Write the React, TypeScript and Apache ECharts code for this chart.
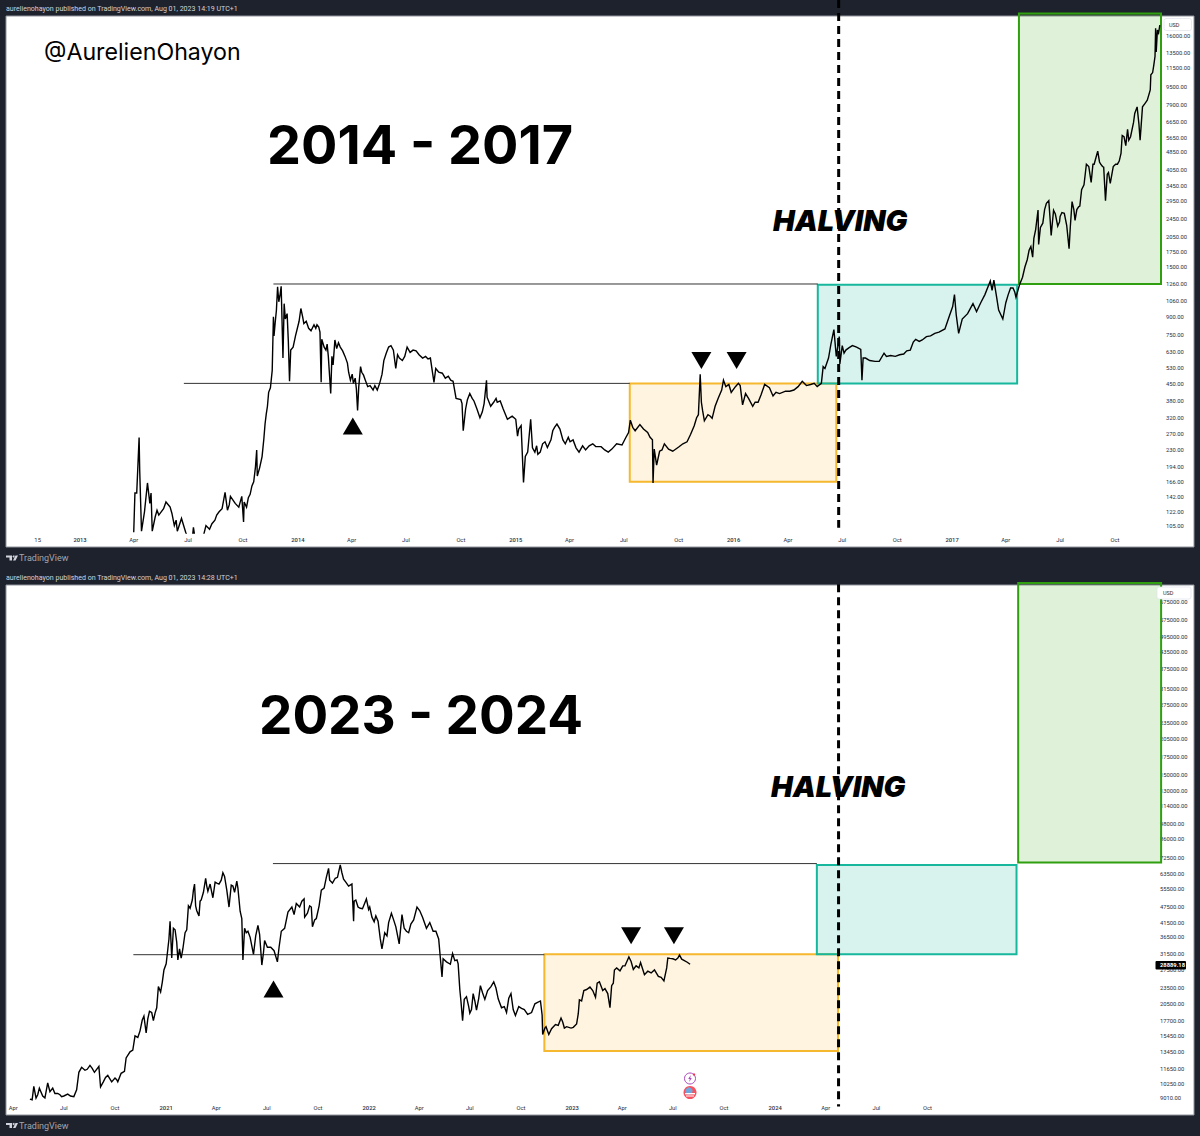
import React, { useEffect, useRef } from "react";
import * as echarts from "echarts";

type Pt = [string, number];

// ---- 2013-2017 prices (date, USD) ----
const btc2013: Pt[] = [
  ["2013-04-01",99],["2013-04-03",148],["2013-04-06",148],["2013-04-10",261],["2013-04-11",187],["2013-04-14",100],["2013-04-19",122],["2013-04-24",164],["2013-04-28",133],["2013-04-30",148],
  ["2013-05-02",100],["2013-05-07",116],["2013-05-13",118],["2013-05-17",122],["2013-05-25",135],["2013-06-01",128],["2013-06-08",106],["2013-06-11",112],["2013-06-13",100],["2013-06-20",114],["2013-06-27",99],
  ["2013-07-03",90],["2013-07-08",92],["2013-07-10",104],["2013-07-13",92],["2013-07-27",96],["2013-07-31",106],["2013-08-06",102],["2013-08-15",112],["2013-08-22",122],["2013-09-01",149],["2013-09-05",124],["2013-09-10",143],["2013-09-18",133],["2013-09-29",143],
  ["2013-10-02",110],["2013-10-03",135],["2013-10-10",141],["2013-10-16",159],["2013-10-22",194],["2013-10-24",230],["2013-10-25",176],["2013-11-02",215],["2013-11-05",258],["2013-11-09",332],["2013-11-13",415],["2013-11-19",520],["2013-11-21",900],["2013-11-22",740],["2013-11-24",850],["2013-11-28",1225],["2013-11-30",1050],
  ["2013-12-04",1230],["2013-12-07",590],["2013-12-09",1030],["2013-12-14",930],["2013-12-18",465],["2013-12-20",640],["2013-12-28",740],
  ["2013-05-10",124],["2013-05-21",126],["2013-06-04",120],["2013-08-10",108],["2013-08-18",118],["2013-08-27",126],["2013-09-08",131],["2013-09-14",138],["2013-09-24",128],["2013-10-07",128],["2013-10-13",146],["2013-10-19",166],["2013-10-29",192],["2013-11-07",300],["2013-11-11",360],["2013-11-16",435],["2013-11-26",960],["2013-12-02",1120],["2013-12-11",880],["2013-12-16",700],["2013-12-24",660],
];
const btc2014: Pt[] = [
  ["2014-01-06",980],["2014-01-11",840],["2014-01-19",800],["2014-01-28",830],["2014-02-05",810],["2014-02-09",460],["2014-02-10",715],["2014-02-14",660],["2014-02-21",600],["2014-02-25",410],["2014-02-27",600],
  ["2014-03-01",550],["2014-03-04",710],["2014-03-07",650],["2014-03-17",635],["2014-03-25",560],["2014-03-30",470],["2014-04-04",455],["2014-04-07",480],["2014-04-11",345],["2014-04-13",440],["2014-04-16",540],["2014-04-21",495],["2014-04-28",440],
  ["2014-05-07",425],["2014-05-18",455],["2014-05-25",575],["2014-06-02",660],["2014-06-10",640],["2014-06-14",530],["2014-06-17",610],["2014-06-25",575],["2014-07-03",660],["2014-07-18",635],["2014-07-29",590],
  ["2014-08-11",590],["2014-08-17",460],["2014-08-20",530],["2014-08-31",505],["2014-09-18",465],["2014-09-23",390],["2014-10-03",370],["2014-10-05",280],["2014-10-09",350],["2014-10-16",410],["2014-10-23",380],
  ["2014-11-02",320],["2014-11-13",470],["2014-11-14",395],["2014-11-20",360],["2014-11-29",390],["2014-12-06",380],["2014-12-18",315],
  ["2014-01-03",860],["2014-01-09",900],["2014-01-15",860],["2014-01-23",780],["2014-01-31",800],["2014-02-02",830],["2014-02-07",770],["2014-02-17",640],["2014-02-19",680],["2014-03-10",690],["2014-03-13",660],["2014-03-21",600],["2014-03-27",510],["2014-04-02",500],["2014-04-09",430],["2014-04-18",510],["2014-04-24",470],["2014-05-02",445],["2014-05-10",445],["2014-05-14",425],["2014-05-22",500],["2014-05-29",620],["2014-06-06",670],["2014-06-20",590],["2014-06-29",600],["2014-07-08",625],["2014-07-13",640],["2014-07-23",610],["2014-08-03",600],["2014-08-07",585],["2014-08-14",520],["2014-08-25",510],["2014-09-05",480],["2014-09-10",490],["2014-09-14",470],["2014-10-01",385],["2014-10-12",385],["2014-10-20",390],["2014-10-28",350],["2014-11-06",340],["2014-11-09",370],["2014-11-25",375],["2014-12-01",375],["2014-12-11",350],["2014-12-26",325],
];
const btc2015: Pt[] = [
  ["2015-01-01",315],["2015-01-04",265],["2015-01-10",295],["2015-01-14",165],["2015-01-17",215],["2015-01-26",315],["2015-02-02",225],["2015-02-07",220],["2015-02-15",245],["2015-02-23",236],
  ["2015-03-04",280],["2015-03-11",300],["2015-03-21",255],["2015-03-30",262],["2015-04-07",255],["2015-04-17",225],["2015-04-28",230],["2015-05-10",245],["2015-05-24",238],["2015-06-05",225],["2015-06-19",245],["2015-06-28",242],
  ["2015-07-09",275],["2015-07-12",312],["2015-07-20",280],["2015-07-28",298],["2015-08-10",275],["2015-08-18",255],["2015-08-19",164],["2015-08-21",232],["2015-08-25",197],["2015-08-30",227],["2015-09-07",245],["2015-09-21",227],
  ["2015-10-15",250],["2015-10-27",295],["2015-11-03",330],["2015-11-06",500],["2015-11-08",375],["2015-11-13",310],["2015-11-19",330],["2015-11-26",318],["2015-12-01",360],["2015-12-12",425],["2015-12-15",470],["2015-12-24",450],["2015-12-28",415],
  ["2015-01-06",285],["2015-01-21",225],["2015-01-29",235],["2015-02-05",240],["2015-02-11",225],["2015-02-19",250],["2015-03-01",255],["2015-03-07",290],["2015-03-16",285],["2015-03-25",245],["2015-04-02",250],["2015-04-12",235],["2015-04-23",240],["2015-05-04",240],["2015-05-15",238],["2015-05-30",230],["2015-06-11",232],["2015-07-04",260],["2015-07-16",290],["2015-08-03",285],["2015-08-14",262],["2015-09-03",230],["2015-09-14",232],["2015-10-01",237],["2015-10-08",245],["2015-10-21",270],["2015-10-31",320],["2015-11-10",345],["2015-11-23",325],["2015-12-06",390],["2015-12-19",440],
];
const btc2016: Pt[] = [
  ["2016-01-09",455],["2016-01-16",365],["2016-01-21",410],["2016-02-02",360],["2016-02-11",375],["2016-02-22",450],["2016-03-01",435],["2016-03-07",400],["2016-03-18",410],["2016-04-11",425],["2016-04-25",465],
  ["2016-05-09",450],["2016-05-20",440],["2016-05-27",455],["2016-05-30",540],["2016-06-08",590],["2016-06-17",790],["2016-06-21",600],["2016-06-26",735],["2016-06-27",555],["2016-07-01",670],["2016-07-07",640],["2016-07-18",670],
  ["2016-08-01",645],["2016-08-03",470],["2016-08-05",590],["2016-08-16",575],["2016-09-01",570],["2016-09-09",620],["2016-09-13",600],["2016-09-28",600],["2016-10-12",615],["2016-10-23",640],
  ["2016-11-01",715],["2016-11-07",700],["2016-11-19",735],["2016-12-03",760],["2016-12-20",795],["2016-12-27",900],
  ["2016-01-04",440],["2016-01-12",445],["2016-01-26",390],["2016-02-06",375],["2016-02-16",405],["2016-03-12",415],["2016-03-28",420],["2016-04-04",420],["2016-04-18",440],["2016-05-02",445],["2016-05-15",455],["2016-06-02",530],["2016-06-12",680],["2016-07-04",620],["2016-07-12",655],["2016-07-25",660],["2016-08-09",590],["2016-08-25",570],["2016-09-20",605],["2016-10-05",610],["2016-10-17",635],["2016-10-28",695],["2016-11-12",710],["2016-11-26",740],["2016-12-10",770],
];
const btc2017: Pt[] = [
  ["2017-01-05",1130],["2017-01-08",915],["2017-01-12",760],["2017-01-18",880],["2017-01-27",930],["2017-02-05",1030],["2017-02-11",950],["2017-02-25",1130],["2017-03-06",1300],["2017-03-09",1180],["2017-03-12",1310],["2017-03-17",1085],["2017-03-20",965],["2017-03-27",880],
  ["2017-04-01",1040],["2017-04-09",1210],["2017-04-16",1160],["2017-04-18",1100],["2017-04-24",1250],["2017-04-29",1350],["2017-05-07",1620],["2017-05-13",1850],["2017-05-16",1660],["2017-05-18",2010],["2017-05-25",2690],["2017-05-26",1890],
  ["2017-06-02",2350],["2017-06-08",2880],["2017-06-12",2960],["2017-06-16",2070],["2017-06-20",2680],["2017-06-27",2280],["2017-07-01",2520],["2017-07-08",2600],["2017-07-16",1810],["2017-07-21",2930],["2017-07-26",2420],
  ["2017-08-01",2780],["2017-08-06",3310],["2017-08-10",3480],["2017-08-14",4300],["2017-08-22",3570],["2017-08-27",4300],["2017-09-02",4920],["2017-09-07",4300],["2017-09-12",4170],["2017-09-15",2960],["2017-09-18",3880],["2017-09-23",3530],
  ["2017-10-02",4300],["2017-10-08",4440],["2017-10-13",5770],["2017-10-19",5200],["2017-10-22",6150],["2017-10-27",5700],["2017-11-03",7230],["2017-11-07",7740],["2017-11-12",5500],["2017-11-16",7740],["2017-11-24",8280],["2017-11-29",9200],["2017-11-30",10750],
  ["2017-12-05",11900],["2017-12-07",13000],["2017-12-08",17300],["2017-12-09",13600],["2017-12-11",17000],["2017-12-15",17900],
  ["2017-01-02",1000],["2017-02-18",1040],["2017-04-05",1130],["2017-04-13",1210],["2017-05-03",1500],["2017-05-10",1780],["2017-05-21",2200],["2017-05-29",2250],["2017-06-05",2700],["2017-06-14",2500],["2017-06-23",2580],["2017-06-30",2380],["2017-07-04",2620],["2017-07-12",2300],["2017-07-18",2250],["2017-07-24",2700],["2017-07-29",2700],["2017-08-03",2800],["2017-08-18",4200],["2017-08-25",4300],["2017-08-31",4700],["2017-09-05",4400],["2017-09-10",4200],["2017-09-20",3950],["2017-09-28",4200],["2017-10-05",4300],["2017-10-11",4800],["2017-10-16",5700],["2017-10-24",5500],["2017-11-01",6600],["2017-11-10",6500],["2017-11-20",8000],["2017-12-03",11000],["2017-12-13",16500],
];

// ---- 2020-2023 prices (date, USD) ----
const btc2020: Pt[] = [
  ["2020-05-01",8950],["2020-05-08",10000],["2020-05-12",9030],["2020-05-18",9850],["2020-05-28",9050],["2020-06-02",10300],["2020-06-06",9550],["2020-06-11",9850],["2020-06-20",9400],["2020-06-27",9150],
  ["2020-07-08",9350],["2020-07-19",9150],["2020-07-24",9700],["2020-07-28",11300],["2020-08-02",11800],["2020-08-08",11500],["2020-08-17",12000],["2020-08-25",11300],["2020-09-02",11900],["2020-09-05",9950],["2020-09-18",11000],["2020-09-25",10400],
  ["2020-10-01",10750],["2020-10-06",10400],["2020-10-12",11200],["2020-10-18",11400],["2020-10-21",12800],["2020-11-02",13700],["2020-11-06",15500],["2020-11-15",16200],["2020-11-22",18400],["2020-11-26",15900],
  ["2020-12-02",19200],["2020-12-09",17700],["2020-12-15",19800],["2020-12-18",23800],["2020-12-22",22700],
  ["2020-05-05",8900],["2020-05-15",9300],["2020-05-24",9200],["2020-06-15",9400],["2020-06-24",9300],["2020-07-01",9200],["2020-07-13",9200],["2020-08-12",11600],["2020-08-21",11700],["2020-08-29",11600],["2020-09-10",10400],["2020-09-14",10800],["2020-10-04",10600],["2020-10-28",13500],["2020-11-11",15300],["2020-11-19",17800],["2020-11-29",18000],["2020-12-06",19000],["2020-12-12",18900],["2020-12-25",24700],["2020-12-28",27500],
];
const btc2021: Pt[] = [
  ["2021-01-01",29000],["2021-01-08",42000],["2021-01-11",30500],["2021-01-17",39000],["2021-01-22",30000],["2021-01-28",30500],["2021-02-04",38000],["2021-02-10",48000],["2021-02-17",50500],["2021-02-21",58000],["2021-02-25",46000],
  ["2021-03-01",44000],["2021-03-05",50500],["2021-03-13",61000],["2021-03-17",54500],["2021-03-21",58000],["2021-03-26",51500],["2021-04-02",58500],["2021-04-13",64000],["2021-04-24",47500],["2021-04-28",57500],
  ["2021-05-08",59500],["2021-05-14",45800],["2021-05-19",30000],["2021-05-22",39500],["2021-05-28",38500],["2021-06-07",31500],["2021-06-15",40500],["2021-06-22",28700],["2021-06-27",35500],["2021-07-08",33500],["2021-07-20",29500],["2021-07-27",38500],
  ["2021-08-08",45500],["2021-08-23",49000],["2021-09-06",51000],["2021-09-07",43500],["2021-09-16",48000],["2021-09-21",40000],["2021-09-28",43000],["2021-10-07",55000],["2021-10-20",66500],["2021-10-22",60000],
  ["2021-11-01",61000],["2021-11-10",68500],["2021-11-16",60500],["2021-11-25",57000],["2021-12-04",42000],["2021-12-05",50000],["2021-12-12",47500],["2021-12-27",51000],
  ["2021-01-04",33000],["2021-01-06",36000],["2021-01-14",39500],["2021-01-20",35000],["2021-01-25",33000],["2021-01-31",33000],["2021-02-07",39000],["2021-02-13",47000],["2021-02-19",55000],["2021-02-23",48000],["2021-03-03",50000],["2021-03-09",54000],["2021-03-15",57000],["2021-03-24",54000],["2021-03-30",59000],["2021-04-06",58000],["2021-04-10",60000],["2021-04-16",62000],["2021-04-20",55000],["2021-05-01",57000],["2021-05-04",54000],["2021-05-10",56000],["2021-05-17",43000],["2021-05-25",38000],["2021-06-01",36500],["2021-06-11",37000],["2021-06-18",37500],["2021-06-25",32000],["2021-07-02",33500],["2021-07-14",32500],["2021-07-23",33500],["2021-08-02",39500],["2021-08-15",47500],["2021-08-19",44500],["2021-08-29",47500],["2021-09-02",50000],["2021-09-12",45000],["2021-09-19",47500],["2021-09-25",42500],["2021-10-03",48000],["2021-10-12",56000],["2021-10-16",61500],["2021-10-27",58500],["2021-11-05",61500],["2021-11-13",64000],["2021-11-20",59000],["2021-12-01",58000],["2021-12-08",50500],["2021-12-16",47000],["2021-12-20",46800],["2021-12-31",46500],
];
const btc2022: Pt[] = [
  ["2022-01-06",43500],["2022-01-17",42000],["2022-01-24",33000],["2022-02-02",37000],["2022-02-10",45000],["2022-02-24",34500],["2022-03-01",44500],["2022-03-09",38500],["2022-03-17",41000],["2022-03-28",47500],["2022-04-14",39500],
  ["2022-05-01",38500],["2022-05-12",25900],["2022-05-14",30300],["2022-05-31",31700],["2022-06-08",30000],["2022-06-13",23200],["2022-06-18",17700],["2022-06-25",21800],["2022-07-01",18900],["2022-07-07",22400],["2022-07-13",19400],["2022-07-20",24000],["2022-07-28",21300],
  ["2022-08-13",24800],["2022-08-21",21400],["2022-08-27",19800],["2022-09-05",19000],["2022-09-13",22400],["2022-09-21",18500],["2022-10-02",19700],["2022-10-13",18700],["2022-10-26",20500],
  ["2022-11-05",21000],["2022-11-08",18600],["2022-11-09",15700],["2022-11-15",16800],["2022-11-20",15700],["2022-12-02",17100],["2022-12-12",18100],["2022-12-18",16600],["2022-12-30",16600],
  ["2022-01-02",47500],["2022-01-10",41800],["2022-01-13",44000],["2022-01-21",36000],["2022-01-29",38000],["2022-02-05",41500],["2022-02-14",42500],["2022-02-18",40000],["2022-03-05",39500],["2022-03-13",38000],["2022-03-22",42500],["2022-04-02",46000],["2022-04-07",43500],["2022-04-20",41500],["2022-04-26",38500],["2022-05-06",36000],["2022-05-09",30500],["2022-05-20",29500],["2022-05-27",28900],["2022-06-04",29800],["2022-06-10",29000],["2022-06-15",21000],["2022-06-21",21300],["2022-06-29",20000],["2022-07-04",19500],["2022-07-10",21000],["2022-07-17",21500],["2022-07-24",22500],["2022-08-02",23000],["2022-08-08",23800],["2022-08-17",23500],["2022-09-01",20000],["2022-09-09",21500],["2022-09-17",19500],["2022-09-27",20000],["2022-10-07",19500],["2022-10-20",19000],["2022-10-30",20700],["2022-11-13",16600],["2022-11-25",16500],["2022-12-07",17000],["2022-12-15",17500],["2022-12-22",16800],
];
const btc2023: Pt[] = [
  ["2023-01-09",17200],["2023-01-14",21200],["2023-01-22",23000],["2023-02-02",23700],["2023-02-12",21700],["2023-02-19",24800],["2023-03-01",23400],["2023-03-10",19800],["2023-03-16",24500],["2023-03-22",28000],
  ["2023-04-06",28500],["2023-04-13",30800],["2023-04-21",27600],["2023-05-04",29300],["2023-05-11",26400],["2023-05-29",27500],["2023-06-15",25000],["2023-06-22",30500],["2023-07-01",30300],["2023-07-13",31300],["2023-07-21",29900],["2023-08-01",28889.18],
  ["2023-01-03",16700],["2023-01-12",18800],["2023-01-18",21000],["2023-01-27",23200],["2023-02-07",23000],["2023-02-15",24500],["2023-02-25",23000],["2023-03-06",22400],["2023-03-13",24000],["2023-03-18",27500],["2023-03-28",27300],["2023-04-02",28500],["2023-04-10",29800],["2023-04-17",29600],["2023-04-26",28500],["2023-05-01",28000],["2023-05-08",27600],["2023-05-17",27200],["2023-05-23",26800],["2023-06-05",26000],["2023-06-10",25800],["2023-06-20",28000],["2023-06-26",30400],["2023-07-06",30000],["2023-07-10",30500],["2023-07-17",30200],["2023-07-27",29400],
];

// ---- axis ticks ----
const topPriceTicks = [16000,13500,11500,9500,7900,6650,5650,4850,4050,3450,2950,2450,2050,1750,1500,1260,1060,900,750,630,530,450,380,320,270,230,194,166,142,122,105];
const bottomPriceTicks = [675000,575000,495000,435000,375000,315000,275000,235000,205000,175000,150000,130000,114000,98000,86000,72500,63500,55500,47500,41500,36500,31500,27500,23500,20500,17700,15450,13450,11650,10250,9010];
const topTimeDates = ["2012-10-22","2013-01-01","2013-04-01","2013-07-01","2013-10-01","2014-01-01","2014-04-01","2014-07-01","2014-10-01","2015-01-01","2015-04-01","2015-07-01","2015-10-01","2016-01-01","2016-04-01","2016-07-01","2016-10-01","2017-01-01","2017-04-01","2017-07-01","2017-10-01"];
const topTimeLabels = ["15","2013","Apr","Jul","Oct","2014","Apr","Jul","Oct","2015","Apr","Jul","Oct","2016","Apr","Jul","Oct","2017","Apr","Jul","Oct"];
const bottomTimeDates = ["2020-04-01","2020-07-01","2020-10-01","2021-01-01","2021-04-01","2021-07-01","2021-10-01","2022-01-01","2022-04-01","2022-07-01","2022-10-01","2023-01-01","2023-04-01","2023-07-01","2023-10-01","2024-01-01","2024-04-01","2024-07-01","2024-10-01"];
const bottomTimeLabels = ["Apr","Jul","Oct","2021","Apr","Jul","Oct","2022","Apr","Jul","Oct","2023","Apr","Jul","Oct","2024","Apr","Jul","Oct"];

// ---- annotations: [start, end, low, high] ----
type Box = [string, string, number, number];
const topOrange: Box = ["2015-07-11","2016-06-21",166,455];
const topTeal: Box = ["2016-05-21","2017-04-20",455,1250];
const topGreen: Box = ["2017-04-23","2017-12-17",1260,20170];
const bottomOrange: Box = ["2022-11-12","2024-04-23",13600,31500];
const bottomTeal: Box = ["2024-03-16","2025-03-10",31500,68500];
const bottomGreen: Box = ["2025-03-13","2025-11-25",70000,793000];
const topLevels: [string,string,number][] = [["2013-11-21","2016-05-21",1260],["2013-06-24","2015-07-11",455]];
const bottomLevels: [string,string,number][] = [["2021-07-12","2024-03-16",69300],["2020-11-03","2022-11-12",31400]];
const topHalving: Box = ["2016-06-25","2016-06-25",103.5,23150];
const bottomHalving: Box = ["2024-04-24","2024-04-24",8400,785000];
const topUpMarks: Pt[] = [["2014-04-03",294]];
const topDownMarks: Pt[] = [["2015-11-08",575],["2016-01-06",575]];
const bottomUpMarks: Pt[] = [["2021-07-13",23300]];
const bottomDownMarks: Pt[] = [["2023-04-17",37000],["2023-07-03",37000]];

const BLACK = "#000000";
const UI = "Roboto";
const BIG = "Inter";

const ts = (d: string) => Date.parse(d);
const toRows = (pts: Pt[]) => pts.map(([d, v]) => [ts(d), v]).sort((a, b) => a[0] - b[0]);

function boxSeries(box: Box, idx: number, stroke: string, fill: string) {
  return {
    type: "custom", xAxisIndex: idx, yAxisIndex: idx * 2, z: 2, silent: true, clip: false,
    encode: { x: [0, 1], y: [2, 3] },
    data: [[ts(box[0]), ts(box[1]), box[2], box[3]]],
    renderItem: (_: any, api: any) => {
      const a = api.coord([api.value(0), api.value(3)]);
      const b = api.coord([api.value(1), api.value(2)]);
      return { type: "rect", shape: { x: a[0], y: a[1], width: b[0] - a[0], height: b[1] - a[1] }, style: { fill, stroke, lineWidth: 2 } };
    },
  };
}
function levelSeries(levels: [string,string,number][], idx: number) {
  return {
    type: "custom", xAxisIndex: idx, yAxisIndex: idx * 2, z: 2, silent: true, clip: false,
    encode: { x: [0, 1], y: 2 },
    data: levels.map((l) => [ts(l[0]), ts(l[1]), l[2]]),
    renderItem: (_: any, api: any) => {
      const a = api.coord([api.value(0), api.value(2)]);
      const b = api.coord([api.value(1), api.value(2)]);
      return { type: "line", shape: { x1: a[0], y1: a[1], x2: b[0], y2: b[1] }, style: { stroke: "#333333", lineWidth: 1 } };
    },
  };
}
function halvingSeries(box: Box, idx: number) {
  return {
    type: "custom", xAxisIndex: idx, yAxisIndex: idx * 2, z: 6, silent: true, clip: false,
    encode: { x: [0, 1], y: [2, 3] },
    data: [[ts(box[0]), ts(box[1]), box[2], box[3]]],
    renderItem: (_: any, api: any) => {
      const a = api.coord([api.value(0), api.value(3)]);
      const b = api.coord([api.value(1), api.value(2)]);
      return { type: "line", shape: { x1: a[0], y1: a[1], x2: b[0], y2: b[1] }, style: { stroke: BLACK, lineWidth: 3, lineDash: [8, 5] } };
    },
  };
}
function priceSeries(name: string, pts: Pt[], idx: number) {
  return {
    name, type: "line", xAxisIndex: idx, yAxisIndex: idx * 2, z: 4, silent: true, showSymbol: false, symbol: "none", clip: true,
    data: toRows(pts), lineStyle: { color: BLACK, width: 1.4, join: "miter" },
  };
}
function markSeries(pts: Pt[], idx: number, rotate: number) {
  return {
    type: "scatter", xAxisIndex: idx, yAxisIndex: idx * 2, z: 5, silent: true, symbol: "triangle", symbolRotate: rotate, symbolSize: [20, 17],
    data: toRows(pts), itemStyle: { color: BLACK, opacity: 1 },
  };
}
function xAxis(idx: number, min: string, max: string, dates: string[], labels: string[]) {
  const vals = dates.map(ts);
  return {
    type: "value", gridIndex: idx, min: ts(min), max: ts(max),
    axisLine: { show: false }, axisTick: { show: false }, splitLine: { show: false },
    axisLabel: {
      customValues: vals, color: "#2a2e39", fontFamily: UI, fontSize: 5.8, margin: 4, hideOverlap: false, showMinLabel: true, showMaxLabel: true,
      formatter: (v: number) => {
        const i = vals.indexOf(v);
        const s = i >= 0 ? labels[i] : "";
        return s.length === 4 ? `{y|${s}}` : s;
      },
      rich: { y: { fontFamily: UI, fontSize: 5.8, fontWeight: 500, color: "#2a2e39" } },
    },
  };
}
function yAxes(idx: number, min: number, max: number, ticks: number[], margin: number) {
  return [
    { type: "log", gridIndex: idx, min, max, position: "right", axisLine: { show: false }, axisTick: { show: false }, axisLabel: { show: false }, splitLine: { show: false } },
    {
      type: "value", gridIndex: idx, position: "right", min: Math.log10(min), max: Math.log10(max),
      axisLine: { show: false }, axisTick: { show: false }, splitLine: { show: false },
      axisLabel: {
        customValues: ticks.map((t) => Math.log10(t)), color: "#2a2e39", fontFamily: UI, fontSize: 5.8, margin, align: "left", hideOverlap: false,
        formatter: (v: number) => {
          const p = Math.pow(10, v);
          let best = ticks[0];
          ticks.forEach((t) => { if (Math.abs(t - p) < Math.abs(best - p)) best = t; });
          return best.toFixed(2);
        },
      },
    },
  ];
}
const txt = (text: string, x: number, y: number, fontSize: number, extra: any = {}) => ({
  type: "text", x, y, z: 20, silent: true,
  style: { text, fontSize, fontFamily: BIG, fill: BLACK, textVerticalAlign: "middle", textAlign: "left", ...extra },
});
const panel = (y: number, h: number) => ({
  type: "rect", z: -5, silent: true, shape: { x: 6, y, width: 1188, height: h }, style: { fill: "#ffffff", stroke: "#8f939c", lineWidth: 1 },
});
const tvLogo = (y: number) => ({
  type: "group", x: 6, y, z: 20, silent: true,
  children: [
    { type: "polygon", shape: { points: [[0,0],[6,0],[6,5],[3.5,5],[3.5,2],[0,2]] }, style: { fill: "#d1d4dc" } },
    { type: "circle", shape: { cx: 7.6, cy: 1, r: 1 }, style: { fill: "#d1d4dc" } },
    { type: "polygon", shape: { points: [[9.5,0],[12,0],[9.5,5],[7,5]] }, style: { fill: "#d1d4dc" } },
  ],
});

export default function App() {
  const ref = useRef<HTMLDivElement>(null);
  useEffect(() => {
    document.body.style.margin = "0";
    const chart = echarts.init(ref.current!, undefined, { renderer: "svg" });
    const header = { fontFamily: UI, fill: "#d1d4dc" };
    chart.setOption({
      animation: false,
      backgroundColor: "#1e222d",
      tooltip: { show: false },
      legend: { show: false },
      grid: [
        { left: 6, top: 16, width: 1155, height: 517, containLabel: false },
        { left: 6, top: 585, width: 1154, height: 516, containLabel: false },
      ],
      xAxis: [
        xAxis(0, "2012-08-30", "2017-12-17", topTimeDates, topTimeLabels),
        xAxis(1, "2020-03-19", "2025-11-23", bottomTimeDates, bottomTimeLabels),
      ],
      yAxis: [
        ...yAxes(0, 98.2, 19640, topPriceTicks, 5),
        ...yAxes(1, 8807, 779800, bottomPriceTicks, 0),
      ],
      series: [
        boxSeries(topOrange, 0, "#f5b82e", "rgba(245,184,46,0.15)"),
        boxSeries(topTeal, 0, "#16b79d", "rgba(22,183,157,0.17)"),
        boxSeries(topGreen, 0, "#2f9e0f", "rgba(76,175,40,0.18)"),
        levelSeries(topLevels, 0),
        priceSeries("BTC 2013-2017", [...btc2013, ...btc2014, ...btc2015, ...btc2016, ...btc2017], 0),
        markSeries(topUpMarks, 0, 0),
        markSeries(topDownMarks, 0, 180),
        halvingSeries(topHalving, 0),
        boxSeries(bottomOrange, 1, "#f5b82e", "rgba(245,184,46,0.15)"),
        boxSeries(bottomTeal, 1, "#16b79d", "rgba(22,183,157,0.17)"),
        boxSeries(bottomGreen, 1, "#2f9e0f", "rgba(76,175,40,0.18)"),
        levelSeries(bottomLevels, 1),
        priceSeries("BTC 2020-2023", [...btc2020, ...btc2021, ...btc2022, ...btc2023], 1),
        markSeries(bottomUpMarks, 1, 0),
        markSeries(bottomDownMarks, 1, 180),
        halvingSeries(bottomHalving, 1),
      ],
      graphic: { elements: [
        panel(16, 531),
        panel(585, 530),
        txt("aurelienohayon published on TradingView.com, Aug 01, 2023 14:19 UTC+1", 6, 8.5, 7.05, header),
        txt("aurelienohayon published on TradingView.com, Aug 01, 2023 14:28 UTC+1", 6, 577, 7.05, header),
        txt("TradingView", 19, 558, 9, { fontFamily: UI, fill: "#a3a6af" }),
        txt("TradingView", 19, 1125.5, 9, { fontFamily: UI, fill: "#a3a6af" }),
        tvLogo(555.5), tvLogo(1123),
        txt("@AurelienOhayon", 44, 52, 23.2),
        txt("2014 - 2017", 267, 144, 54, { fontWeight: 700 }),
        txt("2023 - 2024", 259, 715, 53, { fontWeight: 700 }),
        txt("HALVING", 773, 220, 29, { fontWeight: 900, fontStyle: "italic" }),
        txt("HALVING", 771, 786, 29, { fontWeight: 900, fontStyle: "italic" }),
        { type: "rect", z: 19, silent: true, shape: { x: 1164, y: 18.5, width: 27.5, height: 12, r: 2 }, style: { fill: "#ffffff", stroke: "#e0e3eb", lineWidth: 0.7 } },
        txt("USD", 1169, 24.5, 5.5, { fontFamily: UI, fill: "#2a2e39" }),
        { type: "rect", z: 19, silent: true, shape: { x: 1157, y: 587, width: 34, height: 12, r: 2 }, style: { fill: "#ffffff", stroke: "#e0e3eb", lineWidth: 0.7 } },
        txt("USD", 1163, 593, 5.5, { fontFamily: UI, fill: "#2a2e39" }),
        { type: "rect", z: 19, silent: true, shape: { x: 1155.5, y: 961, width: 30.5, height: 8.5, r: 1 }, style: { fill: "#000000" } },
        txt("28889.18", 1160, 965.3, 5.8, { fontFamily: UI, fill: "#ffffff", fontWeight: 700 }),
        { type: "circle", z: 19, silent: true, shape: { cx: 690, cy: 1078.5, r: 5.5 }, style: { fill: "#ffffff", stroke: "#ab47bc", lineWidth: 1 } },
        { type: "polygon", z: 20, silent: true, shape: { points: [[690.8,1075],[688.2,1079],[689.8,1079],[689.2,1082],[691.8,1078],[690.2,1078]] }, style: { fill: "#ab47bc" } },
        { type: "circle", z: 21, silent: true, shape: { cx: 694, cy: 1074.5, r: 1.2 }, style: { fill: "#f23645" } },
        { type: "circle", z: 19, silent: true, shape: { cx: 690, cy: 1092.5, r: 6.5 }, style: { fill: "#f7525f" } },
        { type: "circle", z: 20, silent: true, shape: { cx: 689, cy: 1091, r: 3.6 }, style: { fill: "#6fa8dc" } },
        { type: "rect", z: 20, silent: true, shape: { x: 685, y: 1093, width: 10, height: 1.4 }, style: { fill: "#ffffff" } },
        { type: "rect", z: 20, silent: true, shape: { x: 686, y: 1095.5, width: 8, height: 1 }, style: { fill: "#ffffff" } },
      ] },
    });
    return () => chart.dispose();
  }, []);
  return <div ref={ref} style={{ width: 1200, height: 1136 }} />;
}
